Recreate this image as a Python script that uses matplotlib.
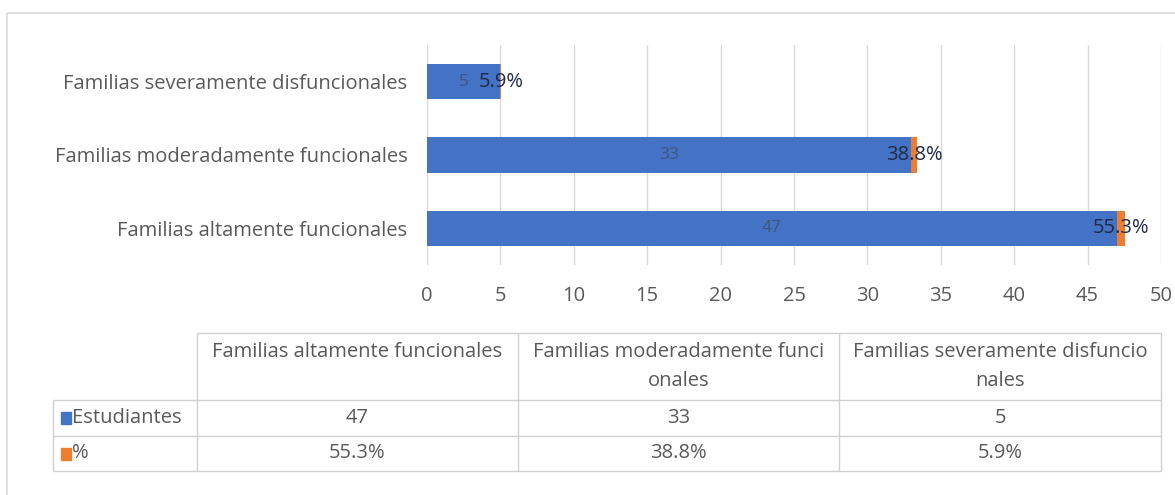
import matplotlib.pyplot as plt
from matplotlib.patches import Rectangle

# data
categories = ['Familias altamente funcionales',
              'Familias moderadamente funcionales',
              'Familias severamente disfuncionales']
table_headers = ['Familias altamente funcionales',
                 'Familias moderadamente funci\nonales',
                 'Familias severamente disfuncio\nnales']
estudiantes = [47, 33, 5]
porcentaje = [0.553, 0.388, 0.059]
pct_labels = ['55.3%', '38.8%', '5.9%']
series_names = ['Estudiantes', '%']
x_ticks = [0, 5, 10, 15, 20, 25, 30, 35, 40, 45, 50]

BLUE = '#4472C4'
ORANGE = '#ED7D31'
TXT = '#595959'
GRID = '#d9d9d9'
FONT = ['Open Sans', 'DejaVu Sans']
FS = 14.5

plt.rcParams['font.family'] = FONT

W, H = 1175, 495
fig = plt.figure(figsize=(W / 100, H / 100), dpi=100)

# overlay in pixel coords for frame and data table
tax = fig.add_axes([0, 0, 1, 1], zorder=0)
tax.set_xlim(0, W)
tax.set_ylim(H, 0)
tax.axis('off')
tax.add_patch(Rectangle((7, 13), W + 20, H + 20, fill=False, edgecolor=GRID, lw=1.2))

# bar chart
x0, x1, y_top, y_bot = 427, 1161, 45, 265
ax = fig.add_axes([x0 / W, (H - y_bot) / H, (x1 - x0) / W, (y_bot - y_top) / H], zorder=1)
ax.patch.set_alpha(0)
ypos = list(range(len(categories)))
ax.barh(ypos, estudiantes, height=0.48, color=BLUE, zorder=2)
ax.barh(ypos, porcentaje, left=estudiantes, height=0.48, color=ORANGE, zorder=2)

for i in ypos:
    ax.text(estudiantes[i] / 2, i, str(estudiantes[i]), ha='center', va='center',
            fontsize=12.5, color='#3e5680', zorder=3)
    ax.text(estudiantes[i] + porcentaje[i] / 2, i, pct_labels[i], ha='center', va='center',
            fontsize=14.5, color='#1f2a44', zorder=3)

ax.set_xlim(0, 50)
ax.set_ylim(-0.5, 2.5)
ax.set_xticks(x_ticks)
ax.set_yticks(ypos)
ax.set_yticklabels(categories)
ax.grid(axis='x', color=GRID, lw=1, zorder=0)
ax.tick_params(axis='both', length=0, labelsize=FS, colors=TXT)
ax.tick_params(axis='x', pad=15)
ax.tick_params(axis='y', pad=14)
for s in ax.spines.values():
    s.set_visible(False)

# data table under the chart
col_edges = [197, 518, 839, 1161]
row_edges = [333, 400, 436, 471]
lab_left = 53
lc = '#d0d0d0'
tax.hlines(row_edges[0], col_edges[0], col_edges[-1], color=lc, lw=1)
tax.hlines(row_edges[1:], lab_left, col_edges[-1], color=lc, lw=1)
tax.vlines(col_edges, row_edges[0], row_edges[-1], color=lc, lw=1)
tax.vlines(lab_left, row_edges[1], row_edges[-1], color=lc, lw=1)

for j, h in enumerate(table_headers):
    cx = (col_edges[j] + col_edges[j + 1]) / 2
    tax.text(cx, 342, h, ha='center', va='top', fontsize=FS, color=TXT, linespacing=1.6)

rows = [[str(v) for v in estudiantes], pct_labels]
for r, (name, color, vals) in enumerate(zip(series_names, [BLUE, ORANGE], rows)):
    cy = (row_edges[r + 1] + row_edges[r + 2]) / 2
    tax.add_patch(Rectangle((61, cy - 6), 10, 12, color=color))
    tax.text(72, cy, name, ha='left', va='center', fontsize=FS, color=TXT)
    for j, v in enumerate(vals):
        cx = (col_edges[j] + col_edges[j + 1]) / 2
        tax.text(cx, cy, v, ha='center', va='center', fontsize=FS, color=TXT)

fig.savefig('out.png', dpi=100)
